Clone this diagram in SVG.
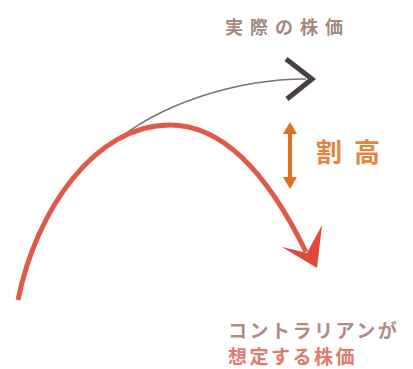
<svg xmlns="http://www.w3.org/2000/svg" width="413" height="369" viewBox="0 0 413 369">
<style>
text{font-family:"Noto Sans CJK JP","Noto Sans",sans-serif;font-weight:bold}
.lbl1{font-size:18px;fill:#a58a7c;letter-spacing:7px}
.lbl2{font-size:26px;fill:#e5853d;letter-spacing:12px}
.lbl3{font-size:19px;letter-spacing:2.5px}
</style>
<rect width="413" height="369" fill="#ffffff"/>
<g id="connectors">
<path d="M110,146 C160,102 240,79 306,79" fill="none" stroke="#7a7370" stroke-width="1.6"/>
<polyline points="286,59 312,79 287,99" fill="none" stroke="#4a3f3c" stroke-width="5" stroke-linejoin="miter"/>
<path d="M18,300 C36,210 95,125 170,125 C225,125 270,178 306,252" fill="none" stroke="#e05a4c" stroke-width="5"/>
<polygon points="282,247 317,268 322,225 307,253" fill="#e2483a"/>
</g>
<g id="gap">
<line x1="290" y1="131" x2="290" y2="180" stroke="#d9731f" stroke-width="4"/>
<polygon points="283,134 290,122 297,134" fill="#d9731f"/>
<polygon points="283,177 290,189 297,177" fill="#d9731f"/>
<text class="lbl2" x="316" y="162">割高</text>
</g>
<g id="actual">
<text class="lbl1" x="225" y="34">実際の株価</text>
</g>
<g id="contrarian">
<text class="lbl3" x="228" y="338" fill="#b08c88">コントラリアンが</text>
<text class="lbl3" x="228" y="364" fill="#e07a6c">想定する株価</text>
</g>
</svg>
